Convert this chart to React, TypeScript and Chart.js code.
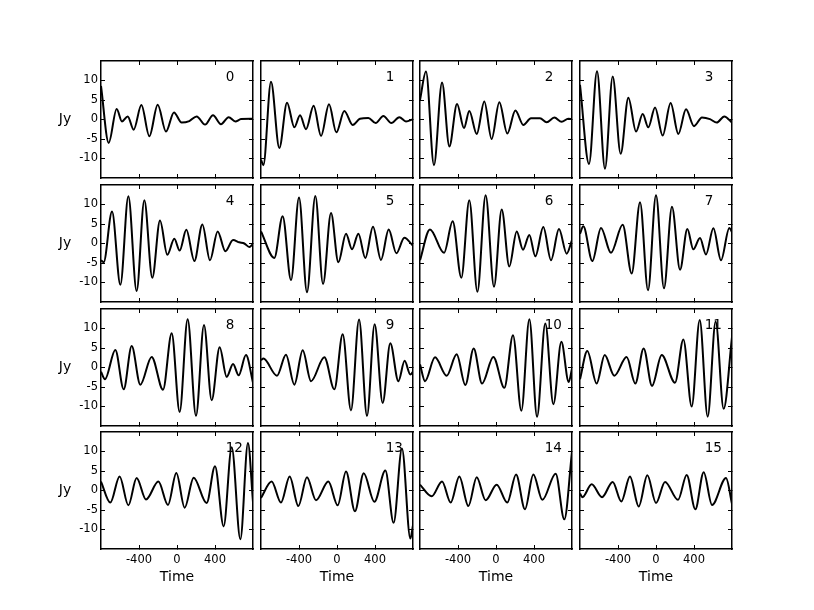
import React, { useEffect, useRef } from 'react';
import { Chart, registerables } from 'chart.js';

Chart.register(...registerables);
Chart.defaults.font.family = "'DejaVu Sans', sans-serif";

// ---- data (time, Jy), one pair of arrays per panel ----
const t0 = [-800, -719, -635, -579, -519, -456, -375, -291, -203, -116, -32, 49, 130, 207, 295, 379, 463, 544, 614, 674, 800];
const v0 = [8.6, -6.0, 2.7, -0.5, 0.8, -2.6, 3.7, -4.3, 3.8, -3.1, 1.8, -0.8, -0.4, 0.8, -1.3, 1.1, -1.2, 0.6, -0.5, 0.1, 0.2];
const t1 = [-800, -775, -695, -607, -526, -449, -389, -326, -246, -168, -84, -7, 77, 165, 242, 330, 407, 488, 572, 656, 726, 800];
const v1 = [-10.3, -11.7, 9.7, -7.3, 4.3, -2.0, 1.1, -2.5, 3.5, -4.2, 3.9, -3.3, 2.2, -1.4, 0.2, 0.4, -0.9, 0.9, -0.9, 0.6, -0.5, 0.1];
const t2 = [-800, -737, -653, -568, -491, -410, -337, -281, -203, -123, -46, 35, 119, 204, 288, 368, 463, 533, 614, 691, 761, 800];
const v2 = [5.0, 12.3, -11.7, 9.5, -6.9, 4.0, -2.2, 2.2, -3.7, 4.6, -5.0, 4.4, -3.6, 2.3, -1.4, 0.3, 0.3, -0.7, 0.5, -0.6, 0.2, 0.1];
const t3 = [-800, -705, -621, -537, -456, -372, -291, -210, -140, -81, -10, 70, 154, 235, 316, 400, 484, 568, 639, 719, 800];
const v3 = [8.9, -11.4, 12.4, -12.6, 11.0, -8.8, 5.6, -3.1, 1.4, -2.0, 3.1, -4.1, 4.2, -3.7, 2.6, -1.7, 0.5, 0.1, -0.8, 0.8, -0.8];
const t4 = [-800, -772, -684, -596, -512, -425, -344, -260, -179, -102, -28, 28, 98, 183, 267, 347, 428, 509, 590, 656, 709, 761, 800];
const v4 = [-4.3, -4.8, 8.2, -10.6, 12.1, -12.2, 11.1, -8.8, 5.9, -2.9, 1.2, -1.8, 3.5, -4.5, 4.9, -4.3, 3.1, -2.0, 0.9, 0.3, 0.0, -0.9, -0.1];
const t5 = [-800, -660, -572, -484, -400, -316, -228, -147, -63, 14, 95, 158, 225, 298, 379, 463, 544, 625, 709, 800];
const v5 = [3.1, -3.7, 7.0, -9.4, 11.8, -12.5, 12.2, -10.4, 7.8, -4.8, 2.5, -1.5, 2.5, -3.7, 4.3, -4.2, 3.6, -2.5, 1.5, -0.6];
const t6 = [-800, -695, -547, -456, -365, -281, -196, -109, -21, 60, 140, 218, 284, 351, 414, 498, 579, 663, 744, 800];
const v6 = [-4.3, 3.6, -2.4, 5.7, -8.8, 11.1, -12.4, 12.4, -11.1, 8.7, -5.9, 3.1, -1.6, 2.2, -3.3, 4.2, -4.3, 3.7, -2.6, 0.9];
const t7 = [-800, -765, -670, -579, -474, -351, -256, -168, -84, 0, 84, 168, 253, 330, 393, 463, 526, 604, 684, 772, 800];
const v7 = [2.5, 4.4, -4.5, 4.0, -2.4, 4.8, -7.7, 10.6, -12.0, 12.4, -11.5, 9.4, -6.7, 3.7, -1.5, 1.4, -2.8, 3.9, -4.3, 4.0, 2.9];
const t8 = [-800, -758, -649, -561, -477, -386, -267, -147, -56, 28, 112, 200, 284, 365, 449, 523, 590, 649, 726, 800];
const v8 = [-1.1, -3.0, 4.5, -5.6, 5.5, -4.4, 2.7, -5.7, 8.8, -11.4, 12.4, -12.4, 10.9, -8.4, 5.2, -2.4, 0.9, -2.0, 3.2, -3.9];
const t9 = [-800, -775, -632, -537, -449, -361, -274, -133, -28, 60, 147, 232, 316, 396, 481, 561, 646, 712, 772, 800];
const v9 = [1.9, 2.3, -2.1, 3.3, -4.4, 4.4, -3.5, 2.6, -5.6, 8.5, -11.0, 12.3, -12.4, 11.1, -9.1, 6.2, -3.5, 1.7, -1.8, -1.1];
const t10 = [-800, -747, -642, -519, -414, -323, -235, -147, -28, 88, 179, 267, 351, 432, 519, 604, 688, 765, 800];
const v10 = [0.8, -3.5, 2.6, -2.1, 3.4, -4.5, 4.9, -4.1, 2.7, -5.2, 8.3, -11.1, 12.4, -12.6, 11.3, -9.4, 6.6, -3.7, -0.3];
const t11 = [-800, -723, -625, -540, -439, -309, -218, -130, -42, 60, 200, 288, 376, 460, 544, 628, 712, 800];
const v11 = [-3.0, 4.2, -4.1, 3.2, -2.1, 2.7, -4.1, 4.9, -4.7, 3.2, -3.9, 7.2, -10.0, 12.2, -12.6, 11.8, -10.6, 7.8];
const t12 = [-800, -702, -604, -512, -425, -326, -196, -95, -7, 81, 175, 312, 400, 491, 576, 667, 747, 800];
const v12 = [2.3, -3.1, 3.6, -3.8, 3.2, -2.3, 2.3, -3.7, 4.5, -4.4, 3.3, -3.2, 6.2, -9.2, 11.1, -12.5, 12.2, -3.0];
const t13 = [-800, -688, -590, -498, -407, -316, -221, -91, 7, 95, 189, 281, 393, 509, 596, 684, 772, 800];
const v13 = [-1.9, 2.3, -3.1, 3.6, -4.0, 3.4, -2.5, 2.3, -3.8, 4.9, -5.3, 4.4, -2.9, 5.1, -8.3, 10.8, -12.3, -8.9];
const t14 = [-800, -677, -568, -477, -386, -291, -203, -109, 7, 119, 211, 305, 393, 488, 628, 719, 800];
const v14 = [1.5, -1.5, 2.3, -3.1, 3.6, -4.0, 3.4, -2.5, 1.5, -3.1, 4.1, -4.8, 4.1, -2.4, 4.3, -7.4, 10.0];
const t15 = [-800, -775, -677, -568, -456, -365, -274, -182, -91, 0, 95, 232, 323, 414, 502, 590, 737, 800];
const v15 = [-0.8, -1.7, 1.6, -1.7, 2.2, -2.8, 3.6, -4.1, 3.9, -3.2, 2.2, -2.4, 4.0, -4.8, 4.7, -3.7, 3.2, -3.4];

const TIMES = [t0, t1, t2, t3, t4, t5, t6, t7, t8, t9, t10, t11, t12, t13, t14, t15];
const VALUES = [v0, v1, v2, v3, v4, v5, v6, v7, v8, v9, v10, v11, v12, v13, v14, v15];
const PANEL_LABELS = ['0', '1', '2', '3', '4', '5', '6', '7', '8', '9', '10', '11', '12', '13', '14', '15'];
const X_TICKS = [-400, 0, 400];
const Y_TICKS = [-10, -5, 0, 5, 10];
const X_LABEL = 'Time';
const Y_LABEL = 'Jy';

// ---- layout ----
const COL_LEFT = [101, 261, 420, 580];
const ROW_TOP = [61, 185, 309, 432];
const PW = 152;
const PH = 117;
const ML = 60, MR = 6, MT = 6, MB = 45;

const textPlugin = {
  id: 'panelText',
  afterDraw(chart: any, _args: any, opts: any) {
    const { ctx, chartArea: a } = chart;
    ctx.save();
    ctx.fillStyle = '#000';
    ctx.font = "13.5px 'DejaVu Sans', sans-serif";
    ctx.textAlign = 'left';
    ctx.textBaseline = 'alphabetic';
    ctx.fillText(opts.label, a.left + 0.82 * (a.right - a.left), a.top + 20);
    if (opts.ylabel) {
      ctx.font = "14px 'DejaVu Sans', sans-serif";
      ctx.textAlign = 'center';
      ctx.textBaseline = 'middle';
      ctx.fillText(opts.ylabel, a.left - 36, (a.top + a.bottom) / 2);
    }
    ctx.restore();
  },
};

function Panel({ index }: { index: number }) {
  const ref = useRef<HTMLCanvasElement | null>(null);
  const row = Math.floor(index / 4);
  const col = index % 4;
  useEffect(() => {
    const isLeft = col === 0;
    const isBottom = row === 3;
    const data = TIMES[index].map((x, i) => ({ x, y: VALUES[index][i] }));
    const fix = (size: number) => (scale: any) => {
      if (scale.isHorizontal()) scale.height = size;
      else scale.width = size;
      scale.paddingTop = 0;
      scale.paddingBottom = 0;
      scale.paddingLeft = 0;
      scale.paddingRight = 0;
    };
    const grid = { display: true, drawOnChartArea: false, drawTicks: true, tickLength: -4, color: '#000', lineWidth: 1 };
    const border = { display: true, color: '#000', width: 1.5 };
    const tickFont = { family: "'DejaVu Sans', sans-serif", size: 11.5 };
    const xt = (s: any) => { s.ticks = X_TICKS.map((value) => ({ value })); };
    const yt = (s: any) => { s.ticks = Y_TICKS.map((value) => ({ value })); };
    const chart = new Chart(ref.current as HTMLCanvasElement, {
      type: 'line',
      data: {
        datasets: [
          {
            data,
            borderColor: '#000',
            borderWidth: 2,
            pointRadius: 0,
            fill: false,
            cubicInterpolationMode: 'monotone',
          },
        ],
      },
      options: {
        animation: false,
        responsive: false,
        events: [],
        layout: { padding: 0 },
        plugins: {
          legend: { display: false },
          tooltip: { enabled: false },
          panelText: { label: PANEL_LABELS[index], ylabel: isLeft ? Y_LABEL : '' },
        } as any,
        scales: {
          x: {
            type: 'linear', position: 'bottom', min: -800, max: 800,
            afterBuildTicks: xt, afterFit: fix(MB),
            grid, border,
            ticks: { display: isBottom, color: '#000', font: tickFont, padding: 8.5, maxRotation: 0, autoSkip: false },
            title: { display: isBottom, text: X_LABEL, color: '#000', font: { family: "'DejaVu Sans', sans-serif", size: 14 }, padding: { top: 0, bottom: 8 } },
          },
          x2: {
            type: 'linear', position: 'top', min: -800, max: 800,
            afterBuildTicks: xt, afterFit: fix(MT),
            grid, border,
            ticks: { display: false },
          },
          y: {
            type: 'linear', position: 'left', min: -15, max: 15,
            afterBuildTicks: yt, afterFit: fix(ML),
            grid, border,
            ticks: { display: isLeft, color: '#000', font: tickFont, padding: 7, autoSkip: false, callback: (v: any) => String(v) },
          },
          y2: {
            type: 'linear', position: 'right', min: -15, max: 15,
            afterBuildTicks: yt, afterFit: fix(MR),
            grid, border,
            ticks: { display: false },
          },
        } as any,
      },
      plugins: [textPlugin],
    });
    return () => chart.destroy();
  }, [index]);
  return (
    <canvas
      ref={ref}
      width={PW + ML + MR}
      height={PH + MT + MB}
      style={{ position: 'absolute', left: COL_LEFT[col] - ML, top: ROW_TOP[row] - MT }}
    />
  );
}

export default function App() {
  return (
    <div style={{ position: 'absolute', left: 0, top: 0, width: 814, height: 610, background: '#fff', overflow: 'hidden' }}>
      {PANEL_LABELS.map((_, i) => (
        <Panel key={i} index={i} />
      ))}
    </div>
  );
}
